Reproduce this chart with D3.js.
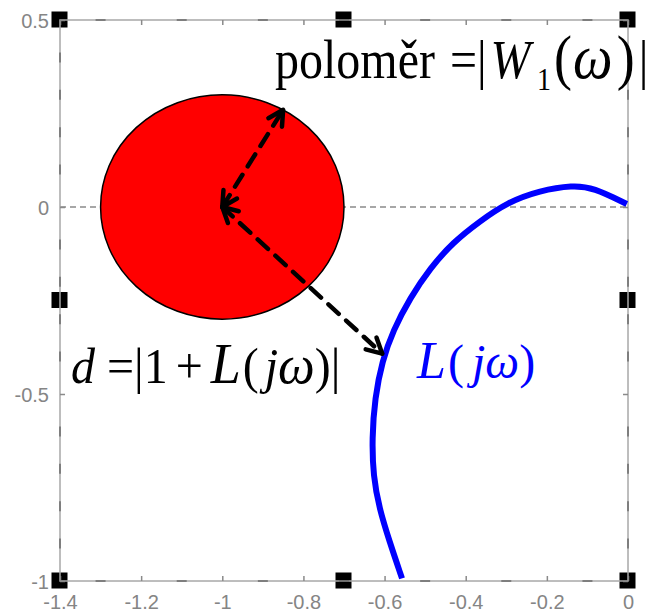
<!DOCTYPE html>
<html>
<head>
<meta charset="utf-8">
<script src="https://cdn.jsdelivr.net/npm/d3@7"></script>
<style>
  body { margin: 0; background: #fff; }
  svg { display: block; }
  .tick-label { font-family: "Liberation Sans", Arial, sans-serif; font-size: 20px; fill: #858585; }
  .eq { font-family: "Liberation Serif", "Times New Roman", serif; font-size: 48px; }
</style>
</head>
<body>
<div id="chart"></div>
<script>
// axis ticks
const xTicks = [-1.4, -1.2, -1, -0.8, -0.6, -0.4, -0.2, 0];
const yTicks = [0.5, 0, -0.5, -1];

// uncertainty disc around -1
const discCenter = [-1, 0];
const discRadius = 0.3;

// L(jw) nyquist curve
const curveRe = [-0.003, -0.086, -0.136, -0.217, -0.298, -0.365, -0.431, -0.488, -0.537, -0.579, -0.606, -0.624, -0.631, -0.628, -0.613, -0.588, -0.557];
const curveIm = [0.008, 0.052, 0.058, 0.044, 0.012, -0.038, -0.094, -0.164, -0.243, -0.330, -0.412, -0.511, -0.618, -0.720, -0.806, -0.894, -0.993];

// double arrows: radius and distance d
const arrowFrom = [[-1, 0], [-1, 0]];
const arrowTo = [[-0.85, 0.26], [-0.606, -0.392]];

const width = 652, height = 613;

const x = d3.scaleLinear().domain([-1.4, 0]).range([60, 628]);
const y = d3.scaleLinear().domain([-1, 0.5]).range([581, 20]);

const svg = d3.select("#chart").append("svg")
  .attr("width", width)
  .attr("height", height);

const defs = svg.append("defs");
defs.append("marker")
  .attr("id", "head")
  .attr("markerUnits", "userSpaceOnUse")
  .attr("viewBox", "-18 -12 22 24")
  .attr("markerWidth", 22)
  .attr("markerHeight", 24)
  .attr("refX", 0)
  .attr("refY", 0)
  .attr("orient", "auto-start-reverse")
  .append("path")
  .attr("d", "M-15,-8L0,0L-15,8")
  .attr("fill", "none")
  .attr("stroke", "#000")
  .attr("stroke-width", 4.5)
  .attr("stroke-linecap", "round")
  .attr("stroke-linejoin", "round");

// zero line
svg.append("line")
  .attr("x1", x(-1.4)).attr("x2", x(0))
  .attr("y1", y(0)).attr("y2", y(0))
  .attr("stroke", "#8a8a8a")
  .attr("stroke-width", 1.5)
  .attr("stroke-dasharray", "6,4");

// red disc
svg.append("ellipse")
  .attr("cx", x(discCenter[0]))
  .attr("cy", y(discCenter[1]))
  .attr("rx", x(discCenter[0] + discRadius) - x(discCenter[0]))
  .attr("ry", y(discCenter[1]) - y(discCenter[1] + discRadius))
  .attr("fill", "#ff0000")
  .attr("stroke", "#000")
  .attr("stroke-width", 1.5);

// selection handles (drawn under the frame)
const hx = [x(-1.4), (x(-1.4) + x(0)) / 2, x(0)];
const hy = [y(0.5), (y(0.5) + y(-1)) / 2, y(-1)];
const handles = [];
hx.forEach((a, i) => hy.forEach((b, j) => { if (!(i == 1 && j == 1)) handles.push([a, b]); }));
svg.selectAll(".handle")
  .data(handles)
  .join("rect")
  .attr("class", "handle")
  .attr("x", d => d[0] - 8.5)
  .attr("y", d => d[1] - 8.5)
  .attr("width", 16)
  .attr("height", 16)
  .attr("fill", "#000");

// frame + axes
const frame = svg.append("g");
frame.append("rect")
  .attr("x", x(-1.4)).attr("y", y(0.5))
  .attr("width", x(0) - x(-1.4))
  .attr("height", y(-1) - y(0.5))
  .attr("fill", "none")
  .attr("stroke", "#a8a8a8")
  .attr("stroke-width", 1.5);

// minor dashes along the frame
const xMinor = d3.range(-1.3, 0, 0.2);
const yMinor = d3.range(-0.9, 0.5, 0.1).filter(v => Math.abs(v % 0.5) > 0.01);
[y(0.5), y(-1)].forEach(yy => {
  frame.selectAll(null).data(xMinor).join("line")
    .attr("x1", d => x(d) - 5).attr("x2", d => x(d) + 5)
    .attr("y1", yy).attr("y2", yy)
    .attr("stroke", "#6a6a6a").attr("stroke-width", 1.5);
});
[x(-1.4), x(0)].forEach(xx => {
  frame.selectAll(null).data(yMinor).join("line")
    .attr("x1", xx).attr("x2", xx)
    .attr("y1", d => y(d) - 5).attr("y2", d => y(d) + 5)
    .attr("stroke", "#6a6a6a").attr("stroke-width", 1.5);
});

// plain hyphen minus like the original
const tickFmt = d => String(+d.toFixed(1));

const xAxis = svg.append("g")
  .attr("transform", `translate(0,${y(-1)})`)
  .call(d3.axisBottom(x).tickValues(xTicks).tickSizeInner(-5).tickSizeOuter(0).tickPadding(17).tickFormat(tickFmt));
const xAxisTop = svg.append("g")
  .attr("transform", `translate(0,${y(0.5)})`)
  .call(d3.axisTop(x).tickValues(xTicks).tickSizeInner(-5).tickSizeOuter(0).tickFormat(""));
const yAxis = svg.append("g")
  .attr("transform", `translate(${x(-1.4)},0)`)
  .call(d3.axisLeft(y).tickValues(yTicks).tickSizeInner(-5).tickSizeOuter(0).tickPadding(11).tickFormat(tickFmt));
const yAxisRight = svg.append("g")
  .attr("transform", `translate(${x(0)},0)`)
  .call(d3.axisRight(y).tickValues(yTicks).tickSizeInner(-5).tickSizeOuter(0).tickFormat(""));

[xAxis, xAxisTop, yAxis, yAxisRight].forEach(g => {
  g.select(".domain").remove();
  g.selectAll(".tick line").attr("stroke", "#8a8a8a").attr("stroke-width", 1.5);
  g.selectAll(".tick text").attr("class", "tick-label").attr("font-size", null).attr("font-family", null);
});
xAxis.selectAll(".tick text").attr("dy", "0.55em");
yAxis.selectAll(".tick text").attr("dy", "0.36em");

// nyquist curve
const pts = curveRe.map((v, i) => [v, curveIm[i]]);
svg.append("path")
  .datum(pts)
  .attr("d", d3.line().x(d => x(d[0])).y(d => y(d[1])).curve(d3.curveBasis))
  .attr("fill", "none")
  .attr("stroke", "#0000ff")
  .attr("stroke-width", 6);

// dashed double arrows
svg.selectAll(".arrow")
  .data(arrowFrom.map((f, i) => [f, arrowTo[i]]))
  .join("line")
  .attr("class", "arrow")
  .attr("x1", d => x(d[0][0])).attr("y1", d => y(d[0][1]))
  .attr("x2", d => x(d[1][0])).attr("y2", d => y(d[1][1]))
  .attr("stroke", "#000")
  .attr("stroke-width", 4.5)
  .attr("stroke-dasharray", "14,10")
  .attr("stroke-linecap", "round")
  .attr("marker-start", "url(#head)")
  .attr("marker-end", "url(#head)");

// equations: one text per line, pieces flow on with a small gap each (equation editor spacing)
function equation(x0, baseline, pieces, fill, sy) {
  const t = svg.append("text")
    .attr("class", "eq")
    .attr("fill", fill)
    .attr("x", x0)
    .attr("transform", `translate(0,${baseline}) scale(1,${sy})`);
  pieces.forEach(p => {
    const [txt, gap, opt] = p;
    const o = opt || {};
    t.append("tspan")
      .attr("dx", gap)
      .attr("dy", o.dy || null)
      .attr("font-size", o.size || null)
      .attr("font-style", o.it ? "italic" : null)
      .text(txt);
  });
}

equation(275, 78, [
  ["poloměr", 0],
  ["=", 15],
  ["|", 0],
  ["W", 4, { it: true }],
  ["1", 6.5, { size: 28, dy: 10 }],
  ["(", 3, { size: 54, dy: -10 }],
  ["ω", 1, { it: true, size: 56 }],
  [")", 4, { size: 54 }],
  ["|", 4]
], "#000", 1.15);

equation(71, 383, [
  ["d", 0, { it: true }],
  ["=", 12],
  ["|", 0],
  ["1", 0],
  ["+", 8],
  ["L", 8, { it: true, size: 54 }],
  ["(", 2],
  ["j", 6, { it: true }],
  ["ω", 0, { it: true, size: 52 }],
  [")", 0],
  ["|", 0]
], "#000", 1.06);

equation(417, 378, [
  ["L", 0, { it: true, size: 52 }],
  ["(", 2],
  ["j", 8, { it: true }],
  ["ω", 0, { it: true }],
  [")", 0]
], "#0000ff", 1.0);
</script>
</body>
</html>
